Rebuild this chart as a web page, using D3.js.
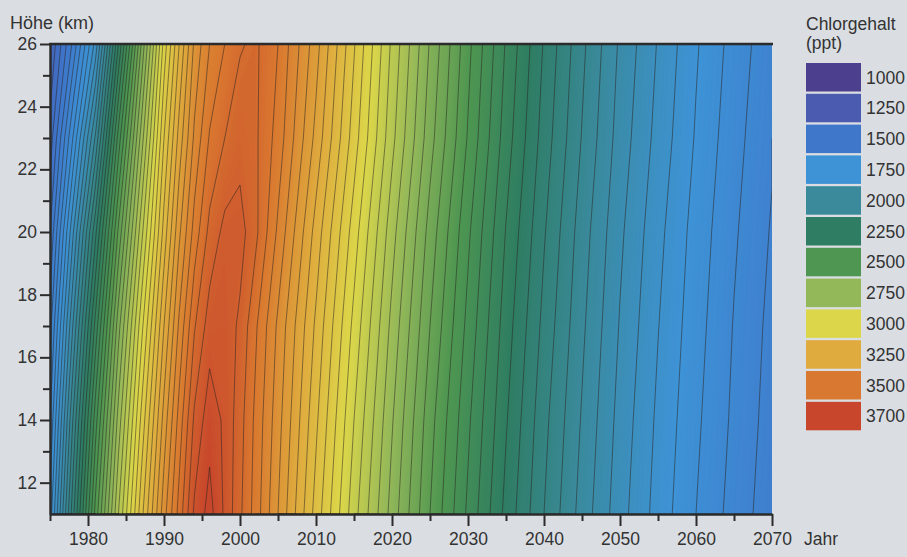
<!DOCTYPE html>
<html><head><meta charset="utf-8">
<script src="https://cdn.jsdelivr.net/npm/d3@7"></script>
<style>
body{margin:0;background:#dadee3;}
svg{display:block;font-family:"Liberation Sans",Arial,Helvetica,sans-serif;}
</style>
</head><body>
<svg id="chart" width="907" height="557"></svg>
<script>
// ---------- data ----------
const years = [1975, 1978, 1981, 1984, 1987, 1990, 1992, 1994, 1996, 1998, 2000, 2002, 2005, 2010, 2015, 2020, 2025, 2030, 2035, 2040, 2045, 2050, 2055, 2060, 2065, 2070];
const heights = [11, 14, 17, 20, 23, 26];
const chlor11km = [1720, 2130, 2520, 2850, 3130, 3380, 3520, 3660, 3720, 3640, 3560, 3480, 3350, 3130, 2920, 2730, 2550, 2390, 2235, 2100, 1980, 1870, 1780, 1700, 1630, 1570];
const chlor14km = [1650, 2050, 2430, 2770, 3060, 3320, 3470, 3610, 3680, 3640, 3570, 3490, 3370, 3160, 2950, 2755, 2570, 2410, 2255, 2115, 1995, 1882, 1790, 1710, 1640, 1578];
const chlor17km = [1580, 1950, 2320, 2680, 2980, 3250, 3410, 3545, 3625, 3630, 3590, 3510, 3390, 3190, 2985, 2785, 2600, 2435, 2275, 2135, 2010, 1896, 1802, 1720, 1647, 1585];
const chlor20km = [1500, 1840, 2190, 2560, 2880, 3170, 3340, 3470, 3565, 3615, 3620, 3565, 3440, 3230, 3025, 2820, 2630, 2460, 2297, 2155, 2025, 1910, 1815, 1730, 1657, 1595];
const chlor23km = [1420, 1700, 2010, 2420, 2770, 3100, 3270, 3410, 3505, 3550, 3580, 3560, 3480, 3285, 3075, 2865, 2670, 2495, 2325, 2178, 2047, 1928, 1833, 1745, 1668, 1606];
const chlor26km = [1350, 1560, 1820, 2250, 2650, 3020, 3200, 3360, 3450, 3500, 3545, 3560, 3500, 3320, 3105, 2890, 2695, 2515, 2345, 2195, 2062, 1942, 1846, 1756, 1680, 1615];
const legendValues = [1000, 1250, 1500, 1750, 2000, 2250, 2500, 2750, 3000, 3250, 3500, 3700];
const legendColors = ["#4b3f8e", "#4b5bb0", "#3f77cb", "#3e93d6", "#3a8a9c", "#2f7d62", "#4e9651", "#93b85a", "#dcd74a", "#dfab3e", "#d97830", "#c8472c"];
const yTicks = [12, 14, 16, 18, 20, 22, 24, 26];
const yMinor = [13, 15, 17, 19, 21, 23, 25];
const xTicks = [1980, 1990, 2000, 2010, 2020, 2030, 2040, 2050, 2060, 2070];
const xMinor = [1975, 1985, 1995, 2005, 2015, 2025, 2035, 2045, 2055, 2065];

// ---------- setup ----------
const svg = d3.select("#chart");
const L = 50, R = 772, T = 44, B = 514;
const FS = "17.5px";
const x = d3.scaleLinear().domain([1975, 2070]).range([L, R]);
const y = d3.scaleLinear().domain([11, 26]).range([B, T]);
const color = d3.scaleLinear().domain(legendValues).range(legendColors).clamp(true);

const rows = [chlor11km, chlor14km, chlor17km, chlor20km, chlor23km, chlor26km];
const n = years.length, m = heights.length;
const grid = [];
rows.forEach(r => r.forEach(v => grid.push(v)));

const colToYear = d3.scaleLinear().domain(d3.range(n)).range(years).clamp(true);
const rowToH = d3.scaleLinear().domain(d3.range(m)).range(heights).clamp(true);
const px = gx => x(colToYear(gx - 0.5));
const py = gy => y(rowToH(gy - 0.5));

const proj = d3.geoTransform({point(a, b) { this.stream.point(px(a), py(b)); }});
const path = d3.geoPath(proj);

svg.append("clipPath").attr("id", "plotclip")
  .append("rect").attr("x", L).attr("y", T).attr("width", R - L).attr("height", B - T);

const plot = svg.append("g").attr("clip-path", "url(#plotclip)");

// filled bands
const fillThr = d3.range(1000, 3800, 10);
const fills = d3.contours().size([n, m]).thresholds(fillThr)(grid);
plot.append("g").selectAll("path").data(fills).join("path")
  .attr("d", path)
  .attr("fill", d => color(d.value + 5))
  .attr("stroke", d => color(d.value + 5))
  .attr("stroke-width", 0.3);

// contour lines (every 50 ppt), skipping plot-boundary segments
const lineThr = d3.range(1050, 3800, 50);
const lines = d3.contours().size([n, m]).thresholds(lineThr)(grid);
const onB = p => p[0] === 0 || p[0] === n || p[1] === 0 || p[1] === m;
const sameSide = (p, q) => (p[0] === q[0] && (p[0] === 0 || p[0] === n)) || (p[1] === q[1] && (p[1] === 0 || p[1] === m));
const polylines = [];
lines.forEach(c => {
  c.coordinates.forEach(poly => poly.forEach(ring => {
    let cur = [];
    for (let i = 0; i < ring.length - 1; i++) {
      const p = ring[i], q = ring[i + 1];
      if (onB(p) && onB(q) && sameSide(p, q)) {
        if (cur.length > 1) polylines.push(cur);
        cur = [];
      } else {
        if (!cur.length) cur.push(p);
        cur.push(q);
      }
    }
    if (cur.length > 1) polylines.push(cur);
  }));
});
const lineGen = d3.line().x(p => px(p[0])).y(p => py(p[1]));
plot.append("g").selectAll("path").data(polylines).join("path")
  .attr("d", lineGen)
  .attr("fill", "none")
  .attr("stroke", "#2a2420")
  .attr("stroke-opacity", 0.75)
  .attr("stroke-width", 0.7);

// ---------- axes ----------
const axisColor = "#2b2b2b";
const textColor = "#333";

// top border
svg.append("line").attr("x1", L - 1).attr("x2", R + 1).attr("y1", T).attr("y2", T)
  .attr("stroke", axisColor).attr("stroke-width", 2.5);

svg.append("g").attr("transform", `translate(${L},0)`)
  .call(d3.axisLeft(y).tickValues(yTicks).tickSize(10).tickSizeOuter(0).tickPadding(3).tickFormat(d3.format("d")));
const yMin = svg.append("g").attr("transform", `translate(${L},0)`)
  .call(d3.axisLeft(y).tickValues(yMinor).tickSize(7).tickFormat(""));
yMin.select(".domain").remove();

svg.append("g").attr("transform", `translate(0,${B})`)
  .call(d3.axisBottom(x).tickValues(xTicks).tickSize(12).tickSizeOuter(0).tickPadding(7).tickFormat(d3.format("d")));
const xMin = svg.append("g").attr("transform", `translate(0,${B})`)
  .call(d3.axisBottom(x).tickValues(xMinor).tickSize(7).tickFormat(""));
xMin.select(".domain").remove();

svg.selectAll(".domain").attr("stroke", axisColor).attr("stroke-width", 2.5);
svg.selectAll(".tick line").attr("stroke", axisColor).attr("stroke-width", 2);
svg.selectAll(".tick text").attr("fill", textColor).style("font-size", FS)
  .style("font-family", '"Liberation Sans",Arial,sans-serif');

svg.append("text").attr("x", 10).attr("y", 29).attr("fill", textColor)
  .style("font-size", "18px").text("Höhe (km)");
svg.append("text").attr("x", 804).attr("y", 545).attr("fill", textColor)
  .style("font-size", FS).text("Jahr");

// ---------- legend ----------
const lg = svg.append("g");
lg.append("text").attr("x", 806).attr("y", 30).attr("fill", textColor).style("font-size", FS).text("Chlorgehalt");
lg.append("text").attr("x", 806).attr("y", 49).attr("fill", textColor).style("font-size", FS).text("(ppt)");
const step = 30.8;
const items = lg.selectAll("g.item").data(legendValues).join("g").attr("class", "item")
  .attr("transform", (d, i) => `translate(806,${63 + i * step})`);
items.append("rect").attr("width", 55).attr("height", 28.5).attr("fill", (d, i) => legendColors[i]);
items.append("text").attr("x", 60).attr("y", 20.5).attr("fill", textColor).style("font-size", FS).text(d => d);
</script>
</body></html>
